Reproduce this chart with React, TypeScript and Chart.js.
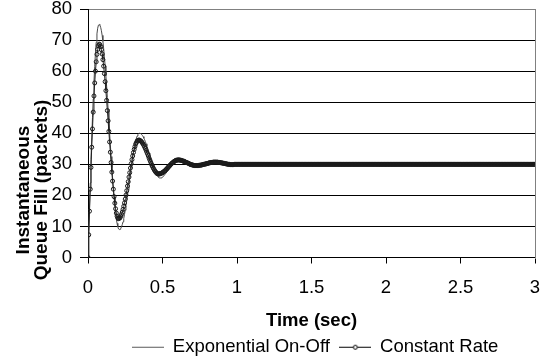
import React, { useEffect, useRef } from "react";
import { Chart, registerables } from "chart.js";

Chart.register(...registerables);

const FONT = "'Liberation Sans', Arial, Helvetica, sans-serif";

const seriesNames = ["Exponential On-Off", "Constant Rate"];
const xTitle = "Time (sec)";
const yTitleLines = ["Instantaneous", "Queue Fill (packets)"];
const xTickValues = [0, 0.5, 1, 1.5, 2, 2.5, 3];
const yTickValues = [0, 10, 20, 30, 40, 50, 60, 70, 80];

// Constant Rate: samples every 0.005 s from 0 to 1.0 s
const constantRateEarlyStart = 0;
const constantRateEarlyStep = 0.005;
const constantRateEarly = [
  0, 7.3, 14.9, 22.0, 29.0, 35.5, 41.4, 46.8, 52.0, 56.2, 60.0, 63.0, 65.4, 67.0, 68.2, 68.7,
  68.5, 67.9, 66.9, 65.5, 63.7, 61.6, 59.2, 56.6, 53.7, 50.6, 47.3, 44.0, 40.6, 37.2, 33.9, 30.6,
  27.5, 24.6, 22.0, 19.6, 17.5, 15.7, 14.3, 13.3, 12.7, 12.5,
  12.6, 12.8, 13.3, 13.9, 14.6, 15.5, 16.5, 17.6, 18.8, 20.1, 21.5, 23.0, 24.4, 25.9, 27.3, 28.8,
  30.2, 31.5, 32.7, 33.8, 34.8, 35.7, 36.5, 37.0, 37.5, 37.7, 37.8,
  37.8, 37.6, 37.5, 37.2, 36.9, 36.5, 36.1, 35.6, 35.1, 34.5, 33.9, 33.3, 32.7, 32.0, 31.4, 30.8,
  30.2, 29.6, 29.1, 28.6, 28.2, 27.8, 27.5, 27.2, 27.0, 26.9, 26.9,
  26.9, 27.0, 27.1, 27.2, 27.3, 27.5, 27.7, 27.9, 28.1, 28.4, 28.6, 28.9, 29.2, 29.4, 29.7, 29.9,
  30.2, 30.4, 30.6, 30.8, 31.0, 31.1, 31.3, 31.3, 31.4, 31.4,
  31.4, 31.4, 31.3, 31.3, 31.2, 31.1, 31.0, 31.0, 30.8, 30.7, 30.6, 30.5, 30.4, 30.3, 30.2, 30.0,
  29.9, 29.9, 29.8, 29.7, 29.7, 29.6, 29.6, 29.6,
  29.6, 29.6, 29.6, 29.7, 29.7, 29.7, 29.8, 29.8, 29.9, 30.0, 30.0, 30.1, 30.1, 30.2, 30.3, 30.3,
  30.4, 30.5, 30.5, 30.6, 30.6, 30.6, 30.7, 30.7, 30.7, 30.7,
  30.7, 30.7, 30.7, 30.6, 30.6, 30.6, 30.5, 30.5, 30.4, 30.4, 30.3, 30.3, 30.2, 30.2, 30.1, 30.1,
  30.0, 30.0, 30.0, 29.9, 29.9, 29.9, 29.9, 29.9, 30.0, 30.0, 30.0, 30.0, 30.0,
];

// Constant Rate: samples every 0.005 s from 1.005 to 3.0 s
const constantRateLateStart = 1.005;
const constantRateLateStep = 0.005;
const constantRateLate = [
  30, 30, 30, 30, 30, 30, 30, 30, 30, 30, 30, 30, 30, 30, 30, 30, 30, 30, 30, 30,
  30, 30, 30, 30, 30, 30, 30, 30, 30, 30, 30, 30, 30, 30, 30, 30, 30, 30, 30, 30,
  30, 30, 30, 30, 30, 30, 30, 30, 30, 30, 30, 30, 30, 30, 30, 30, 30, 30, 30, 30,
  30, 30, 30, 30, 30, 30, 30, 30, 30, 30, 30, 30, 30, 30, 30, 30, 30, 30, 30, 30,
  30, 30, 30, 30, 30, 30, 30, 30, 30, 30, 30, 30, 30, 30, 30, 30, 30, 30, 30, 30,
  30, 30, 30, 30, 30, 30, 30, 30, 30, 30, 30, 30, 30, 30, 30, 30, 30, 30, 30, 30,
  30, 30, 30, 30, 30, 30, 30, 30, 30, 30, 30, 30, 30, 30, 30, 30, 30, 30, 30, 30,
  30, 30, 30, 30, 30, 30, 30, 30, 30, 30, 30, 30, 30, 30, 30, 30, 30, 30, 30, 30,
  30, 30, 30, 30, 30, 30, 30, 30, 30, 30, 30, 30, 30, 30, 30, 30, 30, 30, 30, 30,
  30, 30, 30, 30, 30, 30, 30, 30, 30, 30, 30, 30, 30, 30, 30, 30, 30, 30, 30, 30,
  30, 30, 30, 30, 30, 30, 30, 30, 30, 30, 30, 30, 30, 30, 30, 30, 30, 30, 30, 30,
  30, 30, 30, 30, 30, 30, 30, 30, 30, 30, 30, 30, 30, 30, 30, 30, 30, 30, 30, 30,
  30, 30, 30, 30, 30, 30, 30, 30, 30, 30, 30, 30, 30, 30, 30, 30, 30, 30, 30, 30,
  30, 30, 30, 30, 30, 30, 30, 30, 30, 30, 30, 30, 30, 30, 30, 30, 30, 30, 30, 30,
  30, 30, 30, 30, 30, 30, 30, 30, 30, 30, 30, 30, 30, 30, 30, 30, 30, 30, 30, 30,
  30, 30, 30, 30, 30, 30, 30, 30, 30, 30, 30, 30, 30, 30, 30, 30, 30, 30, 30, 30,
  30, 30, 30, 30, 30, 30, 30, 30, 30, 30, 30, 30, 30, 30, 30, 30, 30, 30, 30, 30,
  30, 30, 30, 30, 30, 30, 30, 30, 30, 30, 30, 30, 30, 30, 30, 30, 30, 30, 30, 30,
  30, 30, 30, 30, 30, 30, 30, 30, 30, 30, 30, 30, 30, 30, 30, 30, 30, 30, 30, 30,
  30, 30, 30, 30, 30, 30, 30, 30, 30, 30, 30, 30, 30, 30, 30, 30, 30, 30, 30, 30,
];

// Exponential On-Off: samples every 0.005 s from 0 to 0.5 s
const exponentialEarlyStart = 0;
const exponentialEarlyStep = 0.005;
const exponentialEarly = [
  0, 8.0, 16.0, 24.0, 31.5, 38.5, 45.0, 51.0, 56.5, 61.5, 65.8, 69.3, 72.0, 73.8, 74.8, 75.0,
  74.8, 74.1, 73.0, 71.5, 69.6, 67.3, 64.6, 61.7, 58.5, 55.1, 51.5, 47.7, 43.9, 40.1, 36.3, 32.5,
  28.9, 25.5, 22.3, 19.4, 16.7, 14.4, 12.5, 11.0, 9.9, 9.2, 9.0,
  9.1, 9.4, 9.9, 10.6, 11.5, 12.6, 13.9, 15.2, 16.8, 18.4, 20.1, 21.8, 23.6, 25.4, 27.2, 28.9,
  30.6, 32.3, 33.8, 35.1, 36.4, 37.5, 38.4, 39.1, 39.6, 39.9, 40.0,
  40.0, 39.8, 39.6, 39.3, 38.9, 38.4, 37.9, 37.3, 36.6, 35.9, 35.2, 34.4, 33.6, 32.8, 32.0, 31.2,
  30.4, 29.7, 29.0, 28.3, 27.7, 27.2, 26.7, 26.3, 26.0, 25.8, 25.6, 25.6,
  25.6, 25.7, 25.8,
];

// Exponential On-Off: samples every 0.05 s from 0.55 to 3.0 s
const exponentialLateStart = 0.55;
const exponentialLateStep = 0.05;
const exponentialLate = [
  28.7, 31.6, 31.4, 30.1, 29.4, 29.8, 30.4, 30.5, 30.3, 30.0, 29.9,
  30, 30, 30, 30, 30, 30, 30, 30, 30, 30, 30, 30, 30, 30, 30, 30, 30, 30, 30, 30,
  30, 30, 30, 30, 30, 30, 30, 30, 30,
];

function toPoints(start: number, step: number, values: number[]) {
  return values.map((y, i) => ({ x: Math.round((start + i * step) * 10000) / 10000, y }));
}

function makeLegendIcon(color: string, marker: boolean) {
  const c = document.createElement("canvas");
  c.width = 32;
  c.height = 8;
  const g = c.getContext("2d")!;
  g.strokeStyle = color;
  g.lineWidth = 1;
  g.beginPath();
  g.moveTo(0, 4.5);
  g.lineTo(32, 4.5);
  g.stroke();
  if (marker) {
    g.beginPath();
    g.arc(16, 4.5, 2, 0, Math.PI * 2);
    g.fillStyle = "#ffffff";
    g.fill();
    g.stroke();
  }
  return c;
}

const plotFramePlugin = {
  id: "plotFrame",
  beforeDatasetsDraw(chart: any) {
    const { ctx, chartArea } = chart;
    ctx.save();
    ctx.strokeStyle = "#808080";
    ctx.lineWidth = 1;
    ctx.beginPath();
    const x = Math.round(chartArea.right) + 0.5;
    ctx.moveTo(x, Math.round(chartArea.top));
    ctx.lineTo(x, Math.round(chartArea.bottom) + 1);
    ctx.stroke();
    ctx.restore();
  },
};

const yTitlePlugin = {
  id: "yTitleLines",
  afterDraw(chart: any) {
    const { ctx } = chart;
    ctx.save();
    ctx.translate(0, 190);
    ctx.rotate(-Math.PI / 2);
    ctx.font = `bold 19px ${FONT}`;
    ctx.fillStyle = "#000";
    ctx.textAlign = "center";
    ctx.textBaseline = "middle";
    ctx.fillText(yTitleLines[0], 0, 24);
    ctx.fillText(yTitleLines[1], 0, 42);
    ctx.restore();
  },
};

const legendShiftPlugin = {
  id: "legendShift",
  afterLayout(chart: any) {
    const l = chart.legend;
    if (l) {
      l.left += 4;
      l.right += 4;
    }
  },
};

export default function App() {
  const ref = useRef<HTMLCanvasElement | null>(null);

  useEffect(() => {
    document.body.style.margin = "0";
    const canvas = ref.current;
    if (!canvas) return;

    const expIcon = makeLegendIcon("#595959", false);
    const crIcon = makeLegendIcon("#000000", true);

    const chart = new Chart(canvas, {
      type: "line",
      data: {
        datasets: [
          {
            label: seriesNames[0],
            data: [
              ...toPoints(exponentialEarlyStart, exponentialEarlyStep, exponentialEarly),
              ...toPoints(exponentialLateStart, exponentialLateStep, exponentialLate),
            ],
            borderColor: "#4a4a4a",
            borderWidth: 1,
            pointRadius: 0,
            tension: 0,
            order: 2,
          },
          {
            label: seriesNames[1],
            data: [
              ...toPoints(constantRateEarlyStart, constantRateEarlyStep, constantRateEarly),
              ...toPoints(constantRateLateStart, constantRateLateStep, constantRateLate),
            ],
            borderColor: "#222222",
            borderWidth: 1,
            pointRadius: 2,
            pointBorderWidth: 1,
            pointBorderColor: "#1a1a1a",
            pointBackgroundColor: "rgba(0,0,0,0)",
            pointStyle: "circle",
            tension: 0,
            order: 1,
          },
        ],
      },
      options: {
        responsive: false,
        animation: false,
        events: [],
        layout: { padding: { top: 9, right: 12, left: 0, bottom: -2 } },
        plugins: {
          tooltip: { enabled: false },
          legend: {
            position: "bottom",
            fullSize: false,
            labels: {
              usePointStyle: true,
              pointStyleWidth: 31,
              padding: 10,
              color: "#000",
              font: { family: FONT, size: 18.5 },
              generateLabels: (ch: any) => {
                const items = (Chart.defaults.plugins.legend.labels as any).generateLabels(ch);
                items.sort((a: any, b: any) => a.datasetIndex - b.datasetIndex);
                items.forEach((it: any) => {
                  it.pointStyle = it.datasetIndex === 0 ? expIcon : crIcon;
                });
                return items;
              },
            },
          },
        },
        scales: {
          x: {
            type: "linear",
            min: 0,
            max: 3,
            afterBuildTicks: (s: any) => {
              s.ticks = xTickValues.map((v) => ({ value: v }));
            },
            afterFit: (s: any) => {
              s.height = 70;
              s.paddingLeft = 0;
              s.paddingRight = 0;
            },
            grid: {
              display: true,
              drawOnChartArea: false,
              drawTicks: true,
              tickLength: 6,
              color: "#000",
            },
            border: { display: true, color: "#000", width: 1 },
            ticks: {
              color: "#000",
              padding: 13,
              maxRotation: 0,
              font: { family: FONT, size: 18.5 },
              callback: (v: any) => String(v),
            },
            title: {
              display: true,
              text: xTitle,
              color: "#000",
              font: { family: FONT, size: 18.5, weight: "bold" },
              padding: { top: 0, bottom: -4.3 },
            },
          },
          y: {
            type: "linear",
            min: 0,
            max: 80,
            afterBuildTicks: (s: any) => {
              s.ticks = yTickValues.map((v) => ({ value: v }));
            },
            afterFit: (s: any) => {
              s.width = 88;
              s.paddingTop = 0;
              s.paddingBottom = 0;
            },
            grid: {
              color: (c: any) => (c.tick && c.tick.value === 80 ? "#808080" : "#000"),
              tickColor: "#000",
              tickLength: 8,
              lineWidth: 1,
            },
            border: { display: true, color: "#000", width: 1 },
            ticks: {
              color: "#000",
              padding: 8,
              font: { family: FONT, size: 18.5, lineHeight: 1 },
              callback: (v: any) => String(v),
            },
          },
        },
      },
      plugins: [plotFramePlugin, yTitlePlugin, legendShiftPlugin],
    } as any);

    return () => chart.destroy();
  }, []);

  return (
    <div style={{ width: 547, height: 364 }}>
      <canvas ref={ref} width={547} height={364} style={{ display: "block" }} />
    </div>
  );
}
